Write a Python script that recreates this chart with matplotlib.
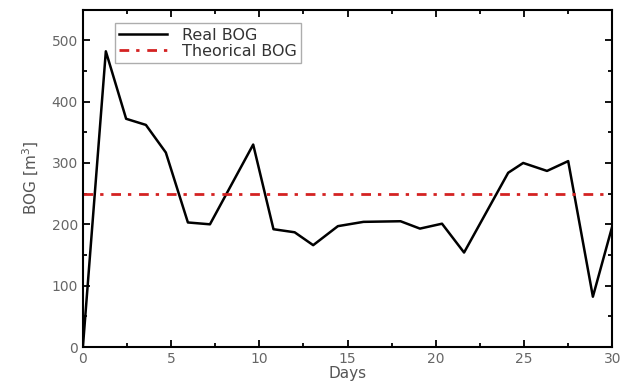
import matplotlib
matplotlib.use("Agg")
import matplotlib.pyplot as plt
from matplotlib.ticker import MultipleLocator

# Values
days = [0, 1.3, 2.45, 3.57, 4.7, 5.95, 7.2, 9.65, 10.8, 12.0, 13.05,
        14.45, 15.9, 18.0, 19.1, 20.35, 21.6, 24.1, 24.95, 26.3, 27.5,
        28.9, 30.0]
real_bog = [0, 482, 372, 362, 317, 203, 200, 330, 192, 187, 166,
            197, 204, 205, 193, 201, 154, 284, 300, 287, 303,
            82, 197]
theorical_bog = 250

fig = plt.figure(figsize=(6.28, 3.91), dpi=100)
ax = fig.add_axes([0.132, 0.1125, 0.843, 0.863])

ax.plot(days, real_bog, color='k', lw=1.8, label='Real BOG')
ax.axhline(theorical_bog, color='#d42222', lw=2, ls=(0, (3.5, 2.5, 1.2, 2.8)),
           label='Theorical BOG')

ax.set_xlim(0, 30)
ax.set_ylim(0, 550)
ax.xaxis.set_major_locator(MultipleLocator(5))
ax.xaxis.set_minor_locator(MultipleLocator(2.5))
ax.yaxis.set_major_locator(MultipleLocator(100))
ax.yaxis.set_minor_locator(MultipleLocator(50))
ax.tick_params(which='both', direction='in', top=True, right=True,
               labelsize=10, labelcolor='#666666', width=1.3)
ax.tick_params(which='major', length=5)
ax.tick_params(which='minor', length=3)
for s in ax.spines.values():
    s.set_linewidth(1.5)

ax.set_xlabel('Days', fontsize=11, color='#555555', labelpad=0)
ax.set_ylabel('BOG [m$^3$]', fontsize=11, color='#555555', labelpad=8)

leg = ax.legend(loc='upper left', bbox_to_anchor=(0.06, 0.96), fontsize=11.5,
                fancybox=False, edgecolor='#999999', handlelength=3.0,
                borderpad=0.3, labelspacing=0.05, handletextpad=0.9,
                borderaxespad=0)
for t in leg.get_texts():
    t.set_color('#333333')

fig.savefig('out.png', dpi=100)
